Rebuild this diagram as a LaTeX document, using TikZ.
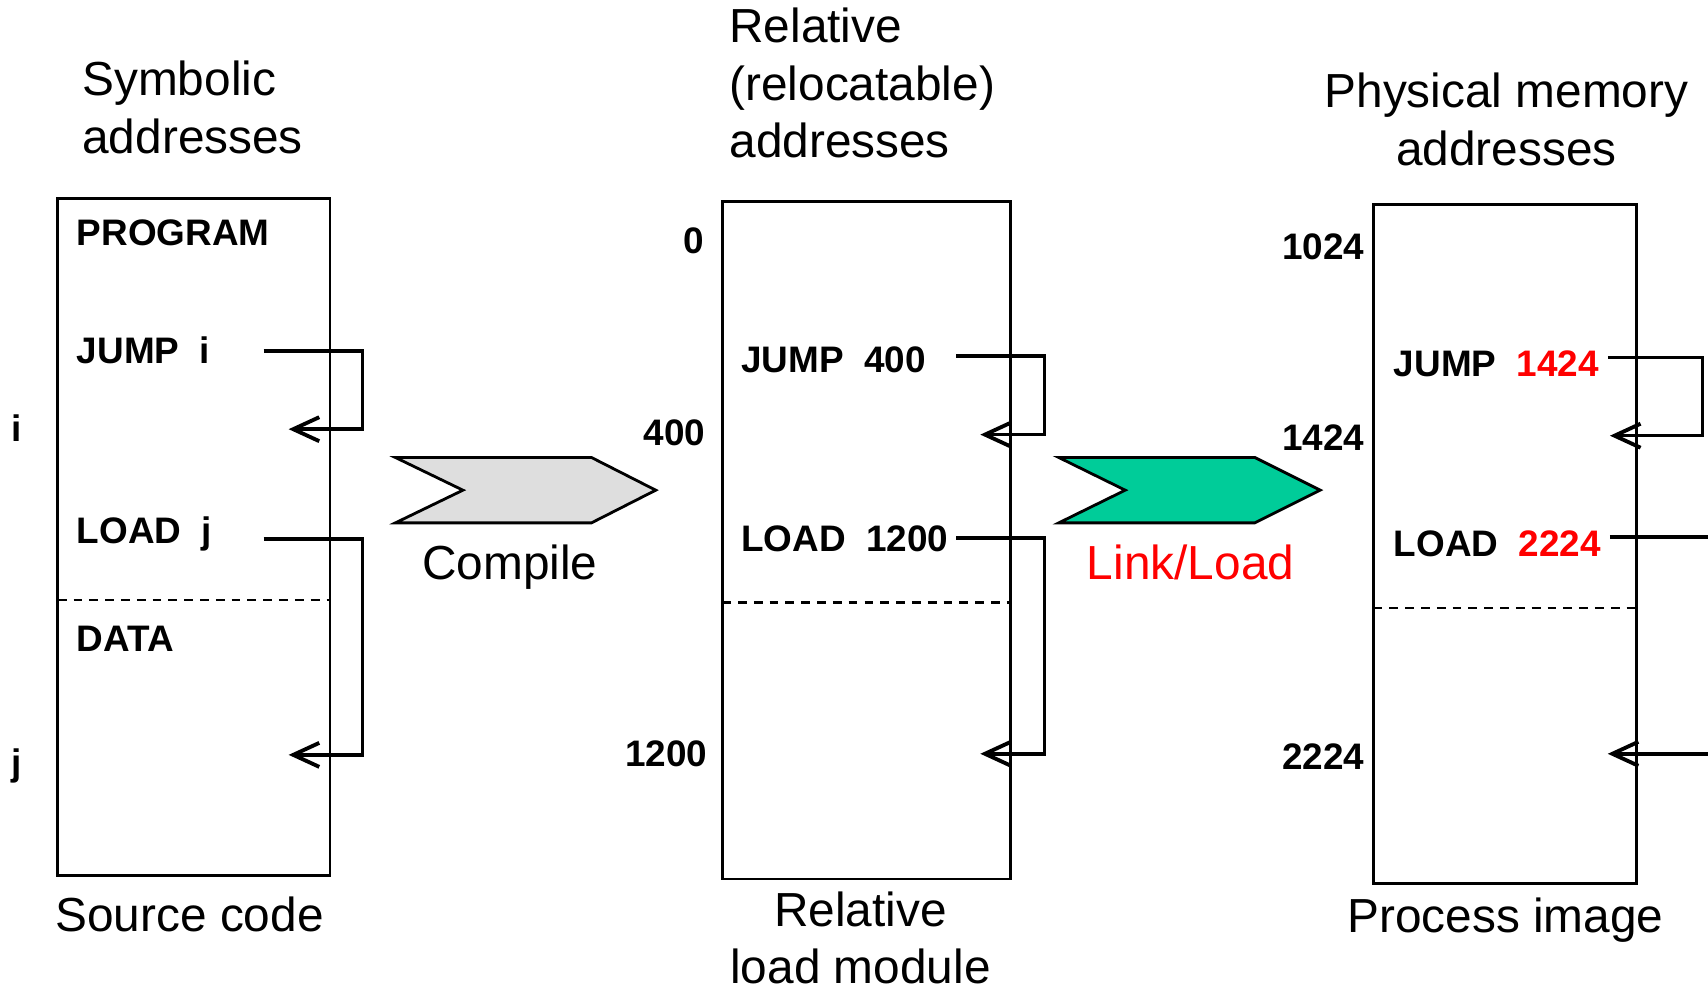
\documentclass[tikz,border=0pt]{standalone}
\usepackage{fontspec}
\setmainfont{Liberation Sans}
\usetikzlibrary{arrows.meta}
\definecolor{LinkFill}{HTML}{00CC99}
\definecolor{CompileFill}{gray}{0.87}
\definecolor{AddrRed}{HTML}{FF0000}
\newcommand{\gap}{\hspace{0.55em}}
\tikzset{
  figure/.style={x=0.010893cm,y=-0.010893cm,font=\fontsize{13.6}{16.4}\selectfont},
  memory/.style={draw,line width=0.8pt},
  divider/.style={dash pattern=on 2.5pt off 2pt,line width=0.7pt},
  word/.style={font=\bfseries\fontsize{10.5}{12}\selectfont,inner sep=0pt},
  caption/.style={inner sep=0pt,align=center},
  refarrow/.style={-{Straight Barb[length=2.6mm,width=2.4mm,line width=1.1pt]},line width=1pt},
  stage/.style={draw,line width=0.8pt},
}

\begin{document}
\begin{tikzpicture}[figure]
  \clip (0,0) rectangle (1568,910);

  % source code
  \node[caption,align=left,anchor=base west] (symTitle) at (75,141) {Symbolic\\addresses};
  \draw[memory] (53,182) rectangle (303,804);
  \draw[divider] (53,551) -- (303,551);
  \node[word,anchor=base west] (sProg) at (70,225) {PROGRAM};
  \node[word,anchor=base west] (sJump) at (70,334) {JUMP\gap i};
  \node[word,anchor=base west] (sLoad) at (70,499) {LOAD\gap j};
  \node[word,anchor=base west] (sData) at (70,598) {DATA};
  \node[word,anchor=base] (sI) at (15,405) {i};
  \node[word,anchor=base] (sJ) at (15,712) {j};
  \coordinate (sJumpOut) at (242,322);
  \coordinate (sJumpIn) at (265,394);
  \coordinate (sLoadOut) at (242,495);
  \coordinate (sLoadIn) at (265,693);
  \draw[refarrow] (sJumpOut) -- ++(91,0) |- (sJumpIn);
  \draw[refarrow] (sLoadOut) -- ++(91,0) |- (sLoadIn);
  \node[caption,anchor=base] (srcName) at (174,855) {Source code};

  % compile step
  \draw[stage,fill=CompileFill] (363,420) -- (543,420) -- (602,450) -- (543,480)
    -- (363,480) -- (425,450) -- cycle;
  \node[caption,anchor=base] (compile) at (468,532) {Compile};

  % relative load module
  \node[caption,align=left,anchor=base west] (relTitle) at (669,145)
    {Relative\\(relocatable)\\addresses};
  \draw[memory] (663,185) rectangle (928,807);
  \draw[divider] (663,553) -- (928,553);
  \node[word,anchor=base east] (r0) at (647,233) {0};
  \node[word,anchor=base east] (r400) at (648,409) {400};
  \node[word,anchor=base east] (r1200) at (650,704) {1200};
  \node[word,anchor=base west] (rJump) at (680,342) {JUMP\gap 400};
  \node[word,anchor=base west] (rLoad) at (680,506) {LOAD\gap 1200};
  \coordinate (rJumpOut) at (878,327);
  \coordinate (rJumpIn) at (900,399);
  \coordinate (rLoadOut) at (878,494);
  \coordinate (rLoadIn) at (900,692);
  \draw[refarrow] (rJumpOut) -- ++(81,0) |- (rJumpIn);
  \draw[refarrow] (rLoadOut) -- ++(81,0) |- (rLoadIn);
  \node[caption,anchor=base] (relName) at (790,903) {Relative\\load module};

  % link/load step
  \draw[stage,fill=LinkFill] (972,420) -- (1152,420) -- (1212,450) -- (1152,480)
    -- (972,480) -- (1033,450) -- cycle;
  \node[caption,anchor=base,text=AddrRed] (linkload) at (1093,532) {Link/Load};

  % process image
  \node[caption,anchor=base] (phyTitle) at (1383,152) {Physical memory\\addresses};
  \draw[memory] (1261,188) rectangle (1502,811);
  \draw[divider] (1261,558) -- (1502,558);
  \node[word,anchor=base east] (p1024) at (1253,238) {1024};
  \node[word,anchor=base east] (p1424) at (1253,414) {1424};
  \node[word,anchor=base east] (p2224) at (1253,706) {2224};
  \node[word,anchor=base west] (pJump) at (1279,346) {JUMP\gap\textcolor{AddrRed}{1424}};
  \node[word,anchor=base west] (pLoad) at (1279,511) {LOAD\gap\textcolor{AddrRed}{2224}};
  \coordinate (pJumpOut) at (1476,328);
  \coordinate (pJumpIn) at (1478,400);
  \coordinate (pLoadOut) at (1478,493);
  \coordinate (pLoadIn) at (1476,692);
  \draw[refarrow] (pJumpOut) -- ++(87,0) |- (pJumpIn);
  \draw[refarrow] (pLoadOut) -- ++(150,0) |- (pLoadIn);
  \node[caption,anchor=base] (procName) at (1382,856) {Process image};
\end{tikzpicture}
\end{document}
